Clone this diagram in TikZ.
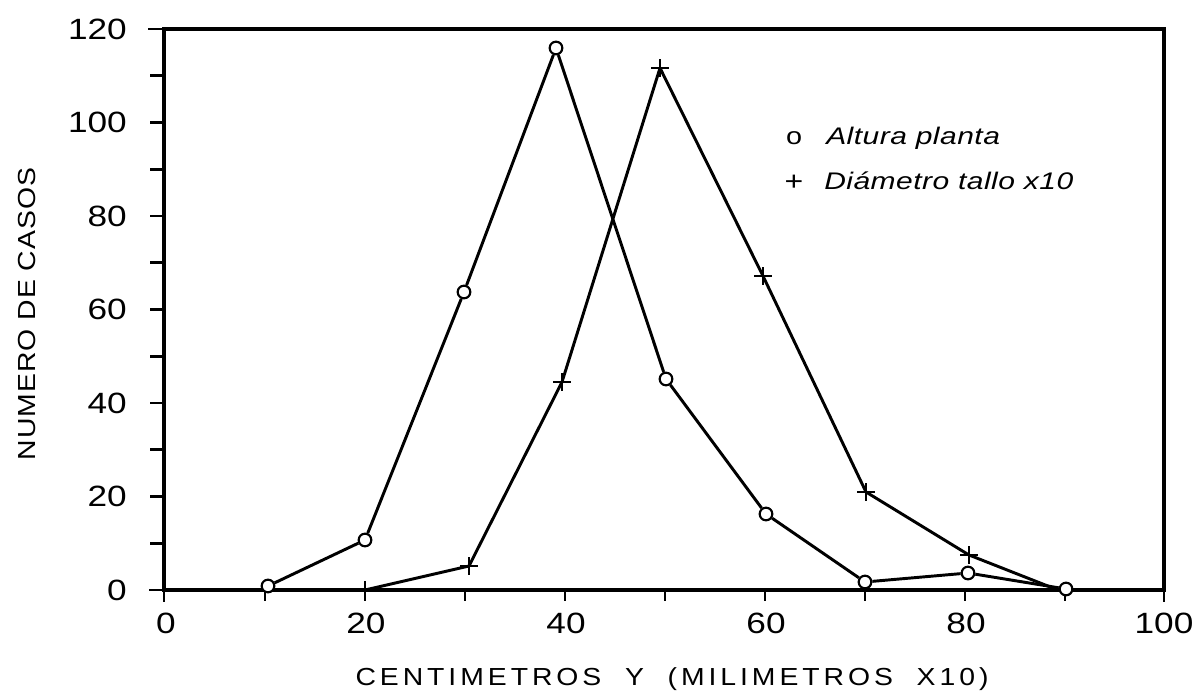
\documentclass[tikz,border=0pt]{standalone}
\usepackage{fontspec}
\usetikzlibrary{shapes.misc}
\newfontfamily\plotfont{Liberation Sans}[FakeStretch=1.2]
\newfontfamily\legfont{Liberation Sans}[FakeStretch=1.25,LetterSpace=2]
\newfontfamily\axisfont{Liberation Sans}[FakeStretch=1.15,LetterSpace=16]
\newfontfamily\casosfont{Liberation Sans}[FakeStretch=1.15,LetterSpace=4]

\begin{document}
\begin{tikzpicture}[x=0.75pt,y=0.75pt,yscale=-1,xscale=1,
  frame/.style={line width=2.5pt},
  tickmark/.style={line width=1.9pt},
  dataline/.style={line width=2.2pt, line join=round},
  circmark/.style={circle, draw, fill=white, line width=1.6pt, inner sep=0pt, minimum size=9.5pt},
  plusmark/.style={cross out, draw, rotate=45, line width=1.6pt, inner sep=0pt, minimum size=7.6pt},
  ticklabel/.style={inner sep=0pt, font=\plotfont\fontsize{22}{26}\selectfont},
  axislabel/.style={inner sep=0pt, font=\fontsize{18.5}{22}\selectfont},
  legendtext/.style={inner sep=0pt, anchor=base west, font=\legfont\itshape\fontsize{18}{22}\selectfont}]
\useasboundingbox (0,0) rectangle (1203,695);

%Shape: Frame
\draw [frame] (164,29) rectangle (1164,590) ;
%Straight Lines: left ticks
\draw [tickmark] (149,590) -- (164,590) (150,543.25) -- (164,543.25) (150,496.5) -- (164,496.5) (150,449.75) -- (164,449.75) (150,403) -- (164,403) (150,356.25) -- (164,356.25) (150,309.5) -- (164,309.5) (150,262.75) -- (164,262.75) (150,216) -- (164,216) (150,169.25) -- (164,169.25) (150,122.5) -- (164,122.5) (150,75.75) -- (164,75.75) (148,29) -- (164,29) ;
%Straight Lines: bottom ticks
\draw [tickmark] (164,590) -- (164,602) (265,590) -- (265,601) (365,590) -- (365,601) (465,590) -- (465,601) (565,590) -- (565,601) (665,590) -- (665,601) (765,590) -- (765,601) (865,590) -- (865,601) (965,590) -- (965,601) (1065,590) -- (1065,601) (1164,590) -- (1164,602) ;

% Text Node
\node (y0) at (127,590) [ticklabel, anchor=east] {0};
% Text Node
\node (y20) at (127,496.5) [ticklabel, anchor=east] {20};
% Text Node
\node (y40) at (127,403) [ticklabel, anchor=east] {40};
% Text Node
\node (y60) at (127,309.5) [ticklabel, anchor=east] {60};
% Text Node
\node (y80) at (127,216) [ticklabel, anchor=east] {80};
% Text Node
\node (y100) at (127,122.5) [ticklabel, anchor=east] {100};
% Text Node
\node (y120) at (127,29) [ticklabel, anchor=east] {120};
% Text Node
\node (x0) at (166,623) [ticklabel] {0};
% Text Node
\node (x20) at (366,623) [ticklabel] {20};
% Text Node
\node (x40) at (566,623) [ticklabel] {40};
% Text Node
\node (x60) at (766,623) [ticklabel] {60};
% Text Node
\node (x80) at (966,623) [ticklabel] {80};
% Text Node
\node (x100) at (1164,623) [ticklabel] {100};

% Text Node
\node (ytitle) at (27,314) [axislabel, rotate=90] {\casosfont NUMERO DE CASOS};
% Text Node
\node (xtitle) at (672,679) [axislabel] {\axisfont CENTIMETROS \ Y \ (MILIMETROS \ X10)};

%Shape: Circle markers
\node (c1) at (268,586) [circmark] {};
\node (c2) at (365,540) [circmark] {};
\node (c3) at (464,292) [circmark] {};
\node (c4) at (556,48) [circmark] {};
\node (c5) at (666,379) [circmark] {};
\node (c6) at (766,514) [circmark] {};
\node (c7) at (865,582) [circmark] {};
\node (c8) at (968,573) [circmark] {};
\node (c9) at (1066,589) [circmark] {};
%Shape: Plus markers
\node (p1) at (365,590) [plusmark] {};
\node (p2) at (469,566) [plusmark] {};
\node (p3) at (562,382) [plusmark] {};
\node (p4) at (660,68) [plusmark] {};
\node (p5) at (763,276) [plusmark] {};
\node (p6) at (866,492) [plusmark] {};
\node (p7) at (969,555) [plusmark] {};
\coordinate (p8) at (1058,590);

%Straight Lines: Altura planta
\draw [dataline] (c1) -- (c2) -- (c3) -- (c4) -- (c5) -- (c6) -- (c7) -- (c8) -- (c9) ;
%Straight Lines: Diametro tallo
\draw [dataline] (p1.center) -- (p2.center) -- (p3.center) -- (p4.center) -- (p5.center) -- (p6.center) -- (p7.center) -- (p8) ;

% Text Node
\node (keyc) at (794,138) [inner sep=0pt, font=\plotfont\fontsize{18}{22}\selectfont] {o};
% Text Node
\node (keyctext) at (826,145) [legendtext] {Altura planta};
% Text Node
\node (keyp) at (794,183) [inner sep=0pt, font=\plotfont\fontsize{20}{22}\selectfont] {+};
% Text Node
\node (keyptext) at (824,190) [legendtext] {Diámetro tallo x10};

\end{tikzpicture}
\end{document}
